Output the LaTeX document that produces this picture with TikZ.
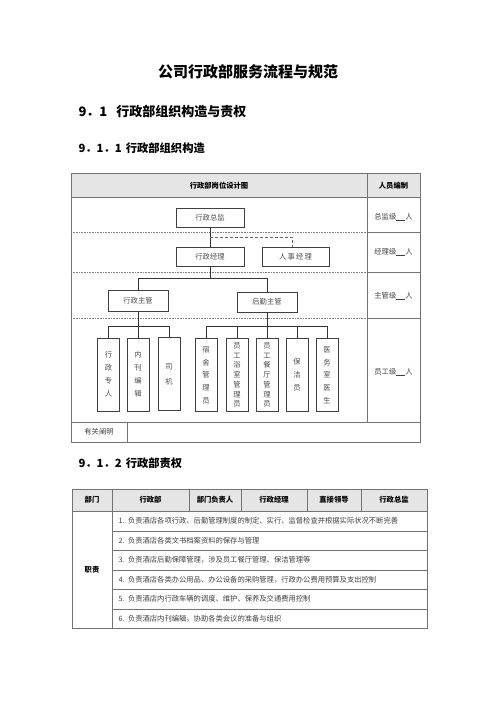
\documentclass[tikz,border=0pt]{standalone}
\usepackage{fontspec}
\setmainfont{Noto Sans CJK SC}
\usetikzlibrary{shadows}

\begin{document}
\begin{tikzpicture}[x=1pt, y=-1pt,
		tline/.style={draw=black!55, line width=0.7pt},
		dotline/.style={draw=black!50, densely dotted, line width=0.6pt},
		cline/.style={draw=black!80, line width=0.6pt},
		box/.style={draw=black!75, line width=0.7pt, fill=white, inner sep=0pt, text=black!70, font=\fontsize{7.3}{8}\selectfont},
		shbox/.style={box, drop shadow={shadow xshift=0.9pt, shadow yshift=-0.9pt, fill=black!75, opacity=1}},
		tallbox/.style={shbox, minimum width=22, minimum height=73, align=center, font=\fontsize{7.3}{#1}\selectfont},
		head/.style={anchor=west, font=\bfseries\fontsize{#1}{#1}\selectfont},
		thead/.style={font=\bfseries\fontsize{7.3}{8}\selectfont},
		cell/.style={text=black!75, font=\fontsize{7.3}{8}\selectfont},
		row/.style={cell, anchor=west}]

	\useasboundingbox (0,0) rectangle (496,702);

	% headings
	\node[font=\bfseries\fontsize{15}{15}\selectfont] (title) at (248,72) {公司行政部服务流程与规范};
	\node[head=13] (h1) at (75,112) {9．1\hspace{9pt}行政部组织构造与责权};
	\node[head=11.3] (h11) at (75,148) {9．1．1\hspace{4pt}行政部组织构造};
	\node[head=11.3] (h12) at (75,463) {9．1．2\hspace{4pt}行政部责权};

	% table 1 frame
	\fill[black!10] (71,173) rectangle (420,197);
	\draw[tline] (71,173) rectangle (420,442);
	\draw[tline] (71,197) -- (420,197);
	\draw[tline] (367,173) -- (367,422);
	\draw[tline] (71,422) -- (420,422);
	\draw[tline] (127,422) -- (127,442);
	\foreach \y in {232,272,318} {
		\draw[dotline] (71,\y) -- (367,\y);
		\draw[tline] (367,\y) -- (420,\y);
	}

	\node[thead] (t1a) at (219,186) {行政部岗位设计图};
	\node[thead] (t1b) at (393.5,186) {人员编制};
	\node[cell] (lv1) at (393.5,217) {总监级\underline{\hspace{9pt}}人};
	\node[cell] (lv2) at (393.5,252) {经理级\underline{\hspace{9pt}}人};
	\node[cell] (lv3) at (393.5,296) {主管级\underline{\hspace{9pt}}人};
	\node[cell] (lv4) at (393.5,372) {员工级\underline{\hspace{9pt}}人};
	\node[cell] (note) at (99,432) {有关阐明};

	% org chart
	\node[box, minimum width=68, minimum height=19] (zongjian) at (210,217.5) {行政总监};
	\node[box, minimum width=68, minimum height=19] (jingli) at (210,256.5) {行政经理};
	\node[shbox, minimum width=67, minimum height=19] (renshi) at (295.5,256.5) {人\,事\,经\,理};
	\node[box, minimum width=60, minimum height=21] (xzzg) at (138,300.5) {行政主管};
	\node[box, minimum width=60, minimum height=20] (hqzg) at (267,302) {后勤主管};

	\node[tallbox=13] (y1) at (108.5,374.5) {行\\政\\专\\人};
	\node[tallbox=13] (y2) at (138,374.5) {内\\刊\\编\\辑};
	\node[tallbox=15] (y3) at (169,374) {司\\机};
	\node[tallbox=12.7] (y4) at (206,375) {宿\\舍\\管\\理\\员};
	\node[tallbox=9.7] (y5) at (237,375) {员\\工\\浴\\室\\管\\理\\员};
	\node[tallbox=9.7] (y6) at (267,375) {员\\工\\餐\\厅\\管\\理\\员};
	\node[tallbox=13] (y7) at (297,375) {保\\洁\\员};
	\node[tallbox=12.7] (y8) at (327,375) {医\\务\\室\\医\\生};

	\coordinate (fork) at (210,237);
	\draw[cline] (zongjian) -- (jingli);
	\draw[cline, densely dashed, draw=black!60] (fork) -| ([xshift=-3pt]renshi.north);
	\draw[cline] (jingli.south) -- ++(0,12) -| (xzzg.north);
	\draw[cline] (jingli.south) -- ++(0,12) -| (hqzg.north);

	\draw[cline] (xzzg.south) -- ++(0,15) coordinate (xbus);
	\foreach \n in {y1,y2,y3}
		\draw[cline] (xbus) -| (\n.north);
	\draw[cline] (hqzg.south) -- ++(0,14) coordinate (hbus);
	\foreach \n in {y4,y5,y6,y7,y8}
		\draw[cline] (hbus) -| (\n.north);

	% table 2
	\fill[black!10] (72,489) rectangle (427,511);
	\draw[tline] (72,489) rectangle (427,628);
	\draw[tline] (72,511) -- (427,511);
	\foreach \x in {112,189,241,307,361}
		\draw[tline] (\x,489) -- (\x,511);
	\draw[tline] (112,511) -- (112,628);
	\foreach \y in {531,550,570,589,609}
		\draw[tline] (112,\y) -- (427,\y);

	\node[thead] (c1) at (92,500) {部门};
	\node[thead] (c2) at (150.5,500) {行政部};
	\node[thead] (c3) at (215,500) {部门负责人};
	\node[thead] (c4) at (274,500) {行政经理};
	\node[thead] (c5) at (334,500) {直接领导};
	\node[thead] (c6) at (394,500) {行政总监};
	\node[thead] (duty) at (92,570) {职责};

	\node[row] (r1) at (115,521) {1.\, 负责酒店各项行政、后勤管理制度的制定、实行、监督检查并根据实际状况不断完善};
	\node[row] (r2) at (115,540.5) {2.\, 负责酒店各类文书档案资料的保存与管理};
	\node[row] (r3) at (115,560) {3.\, 负责酒店后勤保障管理，涉及员工餐厅管理、保洁管理等};
	\node[row] (r4) at (115,579.5) {4.\, 负责酒店各类办公用品、办公设备的采购管理，行政办公费用预算及支出控制};
	\node[row] (r5) at (115,599) {5.\, 负责酒店内行政车辆的调度、维护、保养及交通费用控制};
	\node[row] (r6) at (115,618.5) {6.\, 负责酒店内刊编辑，协助各类会议的准备与组织};
\end{tikzpicture}
\end{document}
